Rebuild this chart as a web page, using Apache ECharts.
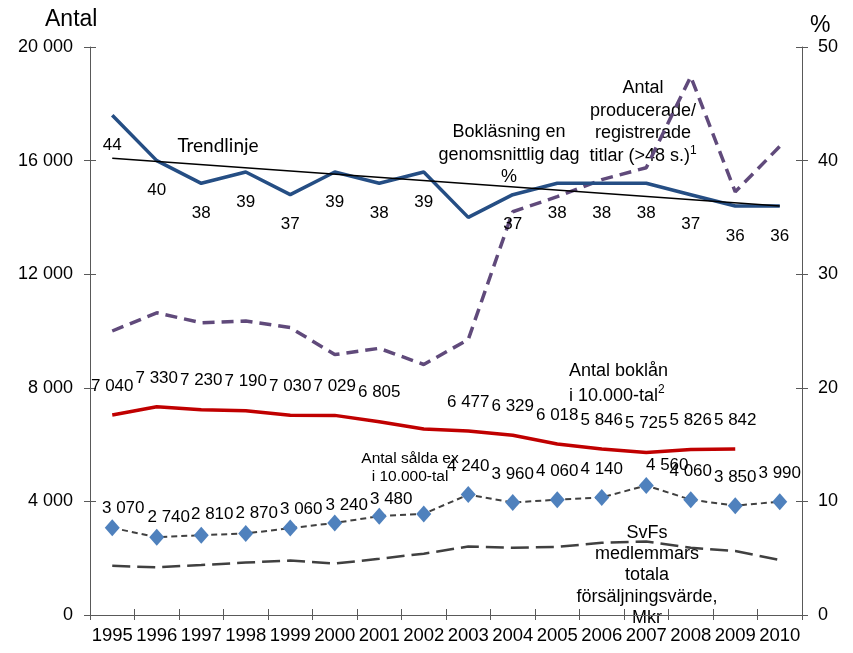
<!DOCTYPE html>
<html>
<head>
<meta charset="utf-8">
<script src="https://cdn.jsdelivr.net/npm/echarts@6/dist/echarts.min.js"></script>
<style>html,body{margin:0;padding:0;background:#fff}#c{width:853px;height:653px}</style>
</head>
<body>
<div id="c"></div>
<script>
// ---- data ----
const years = ['1995','1996','1997','1998','1999','2000','2001','2002','2003','2004','2005','2006','2007','2008','2009','2010'];
const leftTicks = [0, 4000, 8000, 12000, 16000, 20000];
const rightTicks = [0, 10, 20, 30, 40, 50];
// Bokläsning en genomsnittlig dag, %
const readingPct = [44, 40, 38, 39, 37, 39, 38, 39, 35, 37, 38, 38, 38, 37, 36, 36];
const readingPctHiddenLabels = [8];
// Trendlinje (%), start and end values
const trendPct = [40.2, null, null, null, null, null, null, null, null, null, null, null, null, null, null, 36.0];
// Antal producerade/registrerade titlar
const titles = [10000, 10640, 10290, 10350, 10120, 9170, 9390, 8820, 9700, 14200, 14730, 15330, 15750, 18960, 14900, 16500];
// Antal boklån i 10.000-tal
const loans = [7040, 7330, 7230, 7190, 7030, 7029, 6805, 6550, 6477, 6329, 6018, 5846, 5725, 5826, 5842, null];
const loansHiddenLabels = [7];
// Antal sålda ex i 10.000-tal
const sold = [3070, 2740, 2810, 2870, 3060, 3240, 3480, 3560, 4240, 3960, 4060, 4140, 4560, 4060, 3850, 3990];
const soldHiddenLabels = [7];
// SvFs medlemmars totala försäljningsvärde, Mkr
const svf = [1730, 1680, 1760, 1845, 1915, 1810, 1980, 2160, 2410, 2370, 2400, 2540, 2590, 2370, 2250, 1940];

// ---- styling helpers ----
const soldLabelOffsets = [[11,9],[12,8],[11,7],[11,8],[11,9],[12,10],[12,11],[0,0],[0,0],[0,0],[0,0],[0,0],[21,8],[0,0],[0,0],[0,0]];
const FONT = 'Liberation Sans, Arial, sans-serif';
const fmtSpace = v => String(v).replace(/\B(?=(\d{3})+(?!\d))/g, ' ');

const chart = echarts.init(document.getElementById('c'), null, {renderer: 'canvas'});
const axisColor = '#595959';
const grid = {left: 90, right: 51, top: 47, bottom: 38};
const hiddenSym = {symbol: 'circle', symbolSize: 1, showSymbol: true, itemStyle: {color: 'rgba(0,0,0,0)', borderWidth: 0}};

const option = {
  animation: false,
  textStyle: {fontFamily: FONT},
  grid: grid,
  xAxis: [
    {type: 'category', data: years, boundaryGap: true,
     axisLine: {lineStyle: {color: axisColor, width: 1}},
     axisTick: {show: true, length: 5, lineStyle: {color: axisColor}},
     axisLabel: {interval: 0, fontSize: 18.5, color: '#000', fontFamily: FONT, margin: 11},
     splitLine: {show: false}},
    {type: 'category', data: years, boundaryGap: true, position: 'bottom',
     axisLine: {show: false},
     axisTick: {show: true, inside: true, length: 6, lineStyle: {color: axisColor}},
     axisLabel: {show: false}, splitLine: {show: false}}
  ],
  yAxis: [
    {type: 'value', position: 'left', min: leftTicks[0], max: leftTicks[leftTicks.length-1], interval: leftTicks[1]-leftTicks[0],
     axisLine: {show: true, lineStyle: {color: axisColor}},
     axisTick: {show: true, length: 6, lineStyle: {color: axisColor}},
     axisLabel: {fontSize: 18, color: '#000', fontFamily: FONT, margin: 17, formatter: v => fmtSpace(v)},
     splitLine: {show: false}},
    {type: 'value', position: 'left', min: leftTicks[0], max: leftTicks[leftTicks.length-1], interval: leftTicks[1]-leftTicks[0],
     axisLine: {show: false}, axisTick: {show: true, inside: true, length: 6, lineStyle: {color: axisColor}},
     axisLabel: {show: false}, splitLine: {show: false}},
    {type: 'value', position: 'right', min: rightTicks[0], max: rightTicks[rightTicks.length-1], interval: rightTicks[1]-rightTicks[0],
     axisLine: {show: true, lineStyle: {color: axisColor}},
     axisTick: {show: true, length: 6, lineStyle: {color: axisColor}},
     axisLabel: {fontSize: 18, color: '#000', fontFamily: FONT, margin: 16},
     splitLine: {show: false}},
    {type: 'value', position: 'right', min: rightTicks[0], max: rightTicks[rightTicks.length-1], interval: rightTicks[1]-rightTicks[0],
     axisLine: {show: false}, axisTick: {show: true, inside: true, length: 6, lineStyle: {color: axisColor}},
     axisLabel: {show: false}, splitLine: {show: false}}
  ],
  series: [
    {name: 'SvFs', type: 'line', yAxisIndex: 0, data: svf, symbol: 'none', silent: true,
     lineStyle: {color: '#404040', width: 2.5, type: [18, 7]}, z: 2},
    {name: 'Titlar', type: 'line', yAxisIndex: 0, data: titles, symbol: 'none', silent: true,
     lineStyle: {color: '#604A7B', width: 3.5, type: [12, 7]}, z: 3},
    Object.assign({name: 'Boklån', type: 'line', yAxisIndex: 0, data: loans, silent: true,
     lineStyle: {color: '#C00000', width: 3.5}, z: 4,
     label: {show: true, position: 'top', distance: 20, fontSize: 17, color: '#000', fontFamily: FONT,
       formatter: p => loansHiddenLabels.includes(p.dataIndex) || p.value == null ? '' : fmtSpace(p.value)}}, hiddenSym),
    {name: 'Sålda', type: 'line', yAxisIndex: 0, symbol: 'diamond', symbolSize: [15, 17], silent: true,
     data: sold.map((v, i) => ({value: v, label: {offset: soldLabelOffsets[i]}})),
     itemStyle: {color: '#4F81BD'},
     lineStyle: {color: '#404040', width: 2, type: [6, 4]}, z: 5,
     label: {show: true, position: 'top', distance: 11, fontSize: 17, color: '#000', fontFamily: FONT,
       formatter: p => soldHiddenLabels.includes(p.dataIndex) ? '' : fmtSpace(p.value)}},
    Object.assign({name: 'Bokläsning', type: 'line', yAxisIndex: 2, data: readingPct, silent: true,
     lineStyle: {color: '#254E84', width: 3.5}, z: 6,
     label: {show: true, position: 'bottom', distance: 21, fontSize: 17, color: '#000', fontFamily: FONT,
       formatter: p => readingPctHiddenLabels.includes(p.dataIndex) ? '' : String(p.value)}}, hiddenSym),
    {name: 'Trendlinje', type: 'line', yAxisIndex: 2, data: trendPct, connectNulls: true, symbol: 'none', silent: true,
     lineStyle: {color: '#000', width: 1.5}, z: 7}
  ],
  graphic: [
    {type: 'text', left: 45, top: 8, style: {text: 'Antal', fontSize: 23, fontFamily: FONT, fill: '#000'}},
    {type: 'text', left: 810, top: 14, style: {text: '%', fontSize: 23, fontFamily: FONT, fill: '#000'}},
    {type: 'text', x: 218, y: 146, style: {text: 'Trendlinje', fontSize: 19, fontFamily: 'Lato, Open Sans, sans-serif', fill: '#000', textAlign: 'center', textVerticalAlign: 'middle'}},
    {type: 'text', x: 509, y: 121, style: {text: 'Bokläsning en\ngenomsnittlig dag\n%', fontSize: 18, lineHeight: 22.5, fontFamily: FONT, fill: '#000', textAlign: 'center', textVerticalAlign: 'top'}},
    {type: 'text', x: 643, y: 77, style: {
      text: 'Antal\nproducerade/\nregistrerade\ntitlar (>48 s.){sup|1}',
      rich: {sup: {fontSize: 12, fontFamily: FONT, verticalAlign: 'top', fill: '#000', lineHeight: 22.5, padding: [0, 0, 8, 0]}},
      fontSize: 18, lineHeight: 22.5, fontFamily: FONT, fill: '#000', textAlign: 'center', textVerticalAlign: 'top'}},
    {type: 'text', x: 569, y: 359, style: {
      text: 'Antal boklån\ni 10.000-tal{sup|2}',
      rich: {sup: {fontSize: 12, fontFamily: FONT, verticalAlign: 'top', fill: '#000', lineHeight: 25, padding: [0, 0, 8, 0]}},
      fontSize: 18, lineHeight: 25, fontFamily: FONT, fill: '#000', textAlign: 'left', textVerticalAlign: 'top'}},
    {type: 'text', x: 410, y: 450, style: {text: 'Antal sålda ex\ni 10.000-tal', fontSize: 15.5, lineHeight: 18, fontFamily: FONT, fill: '#000', textAlign: 'center', textVerticalAlign: 'top'}},
    {type: 'text', x: 647, y: 522, style: {text: 'SvFs\nmedlemmars\ntotala\nförsäljningsvärde,\nMkr', fontSize: 18, lineHeight: 21.4, fontFamily: FONT, fill: '#000', textAlign: 'center', textVerticalAlign: 'top'}}
  ]
};
chart.setOption(option);
</script>
</body>
</html>
